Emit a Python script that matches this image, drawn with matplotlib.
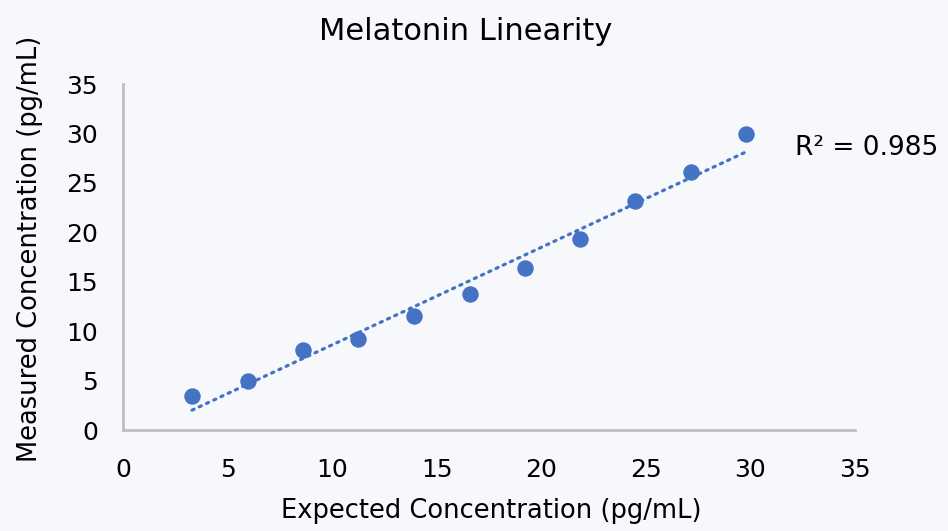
import numpy as np
import matplotlib
matplotlib.use("Agg")
import matplotlib.pyplot as plt

expected = [3.3, 6.0, 8.6, 11.25, 13.9, 16.6, 19.2, 21.85, 24.5, 27.15, 29.8]
measured = [3.4, 5.0, 8.1, 9.2, 11.5, 13.8, 16.4, 19.3, 23.2, 26.1, 29.9]
x_ticks = [0, 5, 10, 15, 20, 25, 30, 35]
y_ticks = [0, 5, 10, 15, 20, 25, 30, 35]
r2_label = "R² = 0.985"

bg = "#F7F8FC"
blue = "#4472C4"
fam = ["DejaVu Sans"]

fig = plt.figure(figsize=(9.48, 5.31), dpi=100, facecolor=bg)
ax = fig.add_axes([123/948, 1 - 430/531, 732/948, 346/531], facecolor=bg)

x = np.array(expected)
y = np.array(measured)
m, b = np.polyfit(x, y, 1)
xf = np.array([x.min(), x.max()])
ax.plot(xf, m * xf + b, linestyle=(0, (0.7, 1.8)), color=blue, lw=2.3,
        dash_capstyle="round", zorder=2)
ax.scatter(x, y, s=140, color=blue, zorder=3, linewidths=0)

ax.set_xlim(0, 35)
ax.set_ylim(0, 35)
ax.set_xticks(x_ticks)
ax.set_yticks(y_ticks)
ax.set_xticklabels([str(t) for t in x_ticks], family=fam, fontsize=18)
ax.set_yticklabels([str(t) for t in y_ticks], family=fam, fontsize=18)
ax.tick_params(axis="x", length=0, pad=20)
ax.tick_params(axis="y", length=0, pad=18)
for s in ["top", "right"]:
    ax.spines[s].set_visible(False)
for s in ["left", "bottom"]:
    ax.spines[s].set_color("#BFBFBF")
    ax.spines[s].set_linewidth(2)

xl = ax.set_xlabel("Expected Concentration (pg/mL)", family=fam, fontsize=18.5)
xl.set_va("baseline")
ax.xaxis.set_label_coords(491/948, 1 - 518/531, transform=fig.transFigure)
yl = ax.set_ylabel("Measured Concentration (pg/mL)", family=fam, fontsize=18.5)
yl.set_rotation_mode("anchor")
yl.set_va("baseline")
yl.set_ha("center")
ax.yaxis.set_label_coords(37/948, 1 - 249/531, transform=fig.transFigure)

fig.text(466/948, 1 - 40/531, "Melatonin Linearity", family=fam, fontsize=22,
         ha="center", va="baseline")
fig.text(795/948, 1 - 155/531, r2_label, family=fam, fontsize=19,
         ha="left", va="baseline")

fig.savefig("out.png", dpi=100, facecolor=bg)
